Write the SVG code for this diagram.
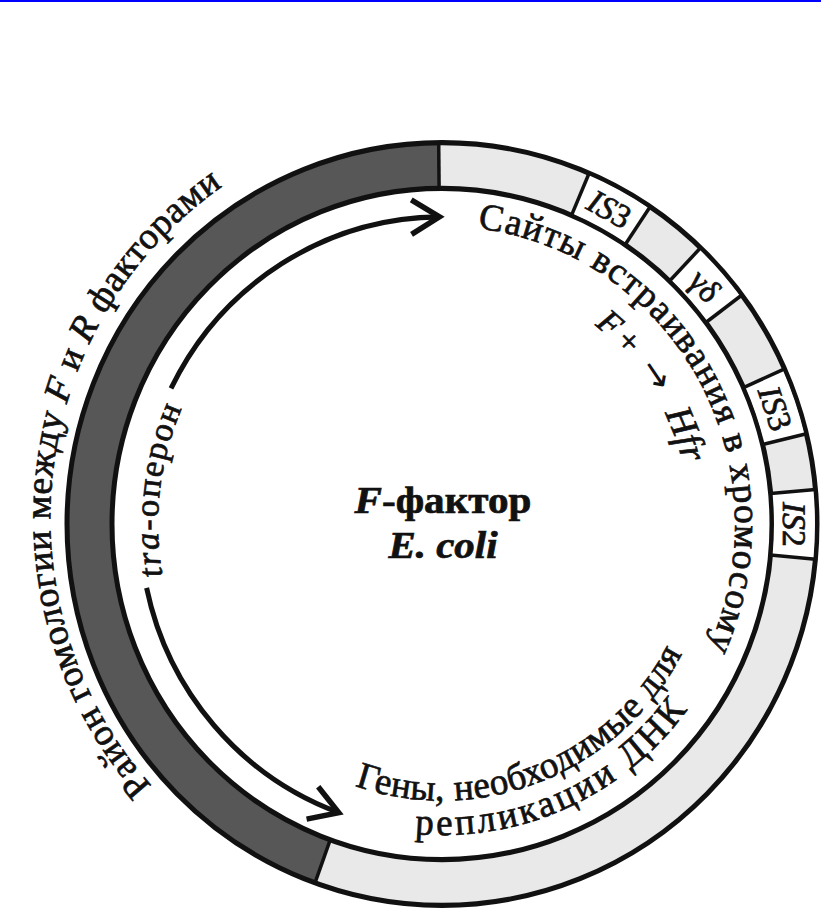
<svg xmlns="http://www.w3.org/2000/svg" width="821" height="913" viewBox="0 0 821 913">
<style>
.t{font-family:"Liberation Serif","Times New Roman",serif;fill:#111;stroke:#111;stroke-width:0.7;}
.lbl{font-size:37px;}
.box{font-size:33px;}
.it{font-style:italic;}
.ln{fill:none;stroke:#111;stroke-width:5;}
.rad{stroke:#111;stroke-width:3.5;}
.arr{fill:none;stroke:#111;stroke-width:5;}
</style>
<defs>
<marker id="chev" markerUnits="userSpaceOnUse" markerWidth="60" markerHeight="60" refX="0" refY="0" orient="auto" overflow="visible" viewBox="-40 -30 60 60">
<path d="M -28 -17 L 0 0 L -28 17" fill="none" stroke="#111" stroke-width="5.5" stroke-linejoin="miter"/>
</marker>
<path id="p1" d="M -290.3 257.5 A 394 394 0 0 1 -210.9 -337.5"/>
<path id="p2" d="M 35.7 -290.8 A 293 293 0 0 1 253.7 146.5"/>
<path id="p3" d="M 152.7 -195.4 A 248 248 0 0 1 248 0"/>
<path id="p4" d="M -87.2 257.6 A 272 272 0 0 0 255.6 93.0"/>
<path id="p5" d="M -27.2 304.8 A 306 306 0 0 0 277.3 129.3"/>
<path id="p6" d="M -279.4 50.8 A 284 284 0 0 1 -232.6 -162.9"/>
</defs>
<rect x="0" y="0" width="821" height="913" fill="#ffffff"/>
<rect x="0" y="0" width="821" height="2" fill="#0000ff"/>
<g transform="translate(442,524) scale(1,1.017)">
<g id="ring">
<circle cx="0" cy="0" r="352.5" fill="none" stroke="#e9e9e9" stroke-width="45"/>
<path id="dark-region" d="M -119.4 331.7 A 352.5 352.5 0 0 1 -3.1 -352.5" fill="none" stroke="#575757" stroke-width="45"/>
<circle class="ln" cx="0" cy="0" r="330"/>
<circle class="ln" cx="0" cy="0" r="375"/>
<line class="rad" x1="-111.8" y1="310.5" x2="-127.0" y2="352.8"/>
<line class="rad" x1="-2.9" y1="-330" x2="-3.3" y2="-375"/>
</g>
<g id="is3a">
<path d="M 138.3 -324.2 A 352.5 352.5 0 0 1 195.6 -293.3" fill="none" stroke="#fff" stroke-width="41"/>
<line class="rad" x1="129.5" y1="-303.5" x2="147.1" y2="-344.9"/>
<line class="rad" x1="183.1" y1="-274.6" x2="208.1" y2="-312.0"/>
<text class="t box" text-anchor="middle" transform="translate(162.2,-299.9) rotate(28.4)"><tspan class="it">IS</tspan>3</text>
</g>
<g id="gd">
<path d="M 243.1 -255.3 A 352.5 352.5 0 0 1 281.9 -211.6" fill="none" stroke="#fff" stroke-width="41"/>
<line class="rad" x1="227.6" y1="-239.0" x2="258.6" y2="-271.6"/>
<line class="rad" x1="263.9" y1="-198.1" x2="299.9" y2="-225.2"/>
<text class="t box" text-anchor="middle" transform="translate(254.7,-226.7) rotate(48.35)">γδ</text>
</g>
<g id="is3b">
<path d="M 322.0 -143.4 A 352.5 352.5 0 0 1 342.5 -83.5" fill="none" stroke="#fff" stroke-width="41"/>
<line class="rad" x1="301.5" y1="-134.2" x2="342.6" y2="-152.5"/>
<line class="rad" x1="320.6" y1="-78.1" x2="364.4" y2="-88.8"/>
<text class="t box" text-anchor="middle" transform="translate(322.7,-110.2) rotate(71.15)"><tspan class="it">IS</tspan>3</text>
</g>
<g id="is2">
<path d="M 351.0 -31.9 A 352.5 352.5 0 0 1 351.0 32.6" fill="none" stroke="#fff" stroke-width="41"/>
<line class="rad" x1="328.6" y1="-29.9" x2="373.5" y2="-34.0"/>
<line class="rad" x1="328.6" y1="30.5" x2="373.4" y2="34.6"/>
<text class="t box" text-anchor="middle" transform="translate(341,0.3) rotate(90.05)"><tspan class="it">IS</tspan>2</text>
</g>
<g id="connectors">
<path class="arr" d="M -271.0 -133.3 A 302 302 0 0 1 -2.6 -302.0" marker-end="url(#chev)"/>
<path class="arr" d="M -295.4 62.8 A 302 302 0 0 0 -103.3 283.8" marker-end="url(#chev)"/>
</g>
<g id="label-homology">
<text class="t lbl"><textPath href="#p1" textLength="672" lengthAdjust="spacing">Район гомологии между <tspan class="it">F</tspan> и <tspan class="it">R</tspan> факторами</textPath></text>
</g>
<g id="label-sites">
<text class="t lbl"><textPath href="#p2" textLength="550" lengthAdjust="spacing">Сайты встраивания в хромосому</textPath></text>
</g>
<g id="label-hfr">
<text class="t" font-size="34"><textPath href="#p3"><tspan class="it">F</tspan><tspan dx="5">+</tspan><tspan dx="16" font-family="DejaVu Sans, sans-serif" font-size="36" stroke-width="0">→</tspan><tspan class="it" dx="21" font-size="38">Hfr</tspan></textPath></text>
</g>
<g id="label-genes">
<text class="t lbl"><textPath href="#p4" textLength="383" lengthAdjust="spacing">Гены, необходимые для</textPath></text>
<text class="t lbl"><textPath href="#p5" textLength="312" lengthAdjust="spacing">репликации ДНК</textPath></text>
</g>
<g id="label-tra">
<text class="t" font-size="34"><textPath href="#p6" textLength="168" lengthAdjust="spacing"><tspan class="it">tra</tspan>-оперон</textPath></text>
</g>
</g>
<g id="center-label">
<text class="t" font-size="37" font-weight="bold" text-anchor="middle" x="443" y="513" textLength="177" lengthAdjust="spacingAndGlyphs"><tspan class="it">F</tspan>-фактор</text>
<text class="t it" font-size="37" font-weight="bold" text-anchor="middle" x="443" y="558" textLength="109" lengthAdjust="spacingAndGlyphs">E. coli</text>
</g>
</svg>
